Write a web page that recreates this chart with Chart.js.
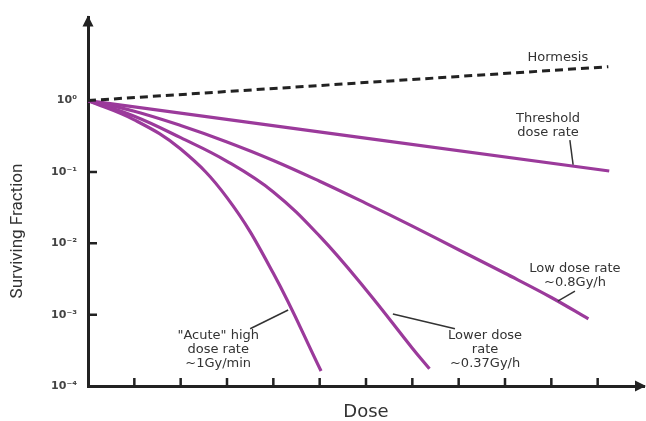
<!DOCTYPE html>
<html>
<head>
<meta charset="utf-8">
<script src="https://cdn.jsdelivr.net/npm/chart.js@4.4.1/dist/chart.umd.min.js"></script>
<style>
  html, body { margin: 0; padding: 0; background: #fff; }
</style>
</head>
<body>
<canvas id="chart" width="646" height="421"></canvas>
<script>
// dose (arbitrary units along x) vs surviving fraction
const acuteDose = [0, 1, 2, 3, 4, 5.03];
const acuteSF = [1, 0.537, 0.209, 0.0437, 0.0038, 0.000162];

const lowerDose = [0, 1, 2, 3, 4, 5, 6, 7, 7.37];
const lowerSF = [1, 0.603, 0.302, 0.141, 0.0525, 0.0126, 0.00224, 0.000339, 0.000174];

const lowDose = [0, 1, 2, 3, 4, 5, 6, 7, 8, 9, 10, 10.8];
const lowSF = [1, 0.708, 0.447, 0.263, 0.145, 0.0741, 0.0363, 0.0174, 0.00813, 0.0038, 0.00174, 0.00087];

const thresholdDose = [0, 11.25];
const thresholdSF = [1, 0.103];

const hormesisDose = [0, 11.23];
const hormesisSF = [1, 2.98];

const xTickValues = [1, 2, 3, 4, 5, 6, 7, 8, 9, 10, 11];
const yTickValues = [1e-4, 1e-3, 1e-2, 1e-1, 1];
const yTickLabels = ["10\u207B\u2074", "10\u207B\u00B3", "10\u207B\u00B2", "10\u207B\u00B9", "10\u2070"];

const xTitle = "Dose";
const yTitle = "Surviving Fraction";

// curve labels, placed in data units
const notes = [
  { lines: ["Hormesis"], x: 10.14, y: 4.06 },
  { lines: ["Threshold", "dose rate"], x: 9.93, y: 0.563, leader: [10.40, 0.279, 10.47, 0.126] },
  { lines: ["Low dose rate", "~0.8Gy/h"], x: 10.51, y: 0.00444, leader: [10.51, 0.00213, 10.14, 0.00155] },
  { lines: ["Lower dose", "rate", "~0.37Gy/h"], x: 8.57, y: 0.000508, leader: [7.92, 0.000635, 6.58, 0.00102] },
  { lines: ["\"Acute\" high", "dose rate", "~1Gy/min"], x: 2.81, y: 0.000508, leader: [3.50, 0.000635, 4.32, 0.00116] }
];

const purple = "#9b3a9b";
const ink = "#222";

function series(doses, sf) {
  return doses.map((d, i) => ({ x: d, y: sf[i] }));
}

const axisExtras = {
  id: "axisExtras",
  afterDraw(chart) {
    const { ctx, chartArea: area, scales: { x, y } } = chart;
    ctx.save();

    // inward tick marks
    ctx.strokeStyle = ink;
    ctx.lineWidth = 2.5;
    ctx.beginPath();
    xTickValues.forEach(v => {
      const px = x.getPixelForValue(v);
      ctx.moveTo(px, area.bottom);
      ctx.lineTo(px, area.bottom - 8);
    });
    yTickValues.slice(1, 4).forEach(v => {
      const py = y.getPixelForValue(v);
      ctx.moveTo(area.left, py);
      ctx.lineTo(area.left + 9, py);
    });
    ctx.stroke();

    // arrow heads
    ctx.fillStyle = ink;
    ctx.beginPath();
    ctx.moveTo(area.left, area.top - 2);
    ctx.lineTo(area.left - 5.5, area.top + 9);
    ctx.lineTo(area.left + 5.5, area.top + 9);
    ctx.closePath();
    ctx.fill();
    ctx.beginPath();
    ctx.moveTo(area.right + 2, area.bottom);
    ctx.lineTo(area.right - 9, area.bottom - 5.5);
    ctx.lineTo(area.right - 9, area.bottom + 5.5);
    ctx.closePath();
    ctx.fill();

    // y title
    ctx.save();
    ctx.translate(18, 231);
    ctx.rotate(-Math.PI / 2);
    ctx.font = "17px Roboto";
    ctx.fillStyle = "#333";
    ctx.textAlign = "center";
    ctx.textBaseline = "middle";
    ctx.fillText(yTitle, 0, 0);
    ctx.restore();

    // curve labels and leader lines
    ctx.font = "13px 'DejaVu Sans'";
    ctx.fillStyle = "#333";
    ctx.textAlign = "center";
    ctx.textBaseline = "middle";
    notes.forEach(n => {
      const cx = x.getPixelForValue(n.x);
      const cy = y.getPixelForValue(n.y);
      n.lines.forEach((t, i) => ctx.fillText(t, cx, cy + i * 14));
      if (n.leader) {
        const [x1, y1, x2, y2] = n.leader;
        ctx.strokeStyle = "#333";
        ctx.lineWidth = 1.5;
        ctx.beginPath();
        ctx.moveTo(x.getPixelForValue(x1), y.getPixelForValue(y1));
        ctx.lineTo(x.getPixelForValue(x2), y.getPixelForValue(y2));
        ctx.stroke();
      }
    });

    ctx.restore();
  }
};

const lineStyle = {
  borderColor: purple,
  borderWidth: 3.2,
  pointRadius: 0,
  fill: false,
  tension: 0.4
};

new Chart(document.getElementById("chart"), {
  type: "line",
  data: {
    datasets: [
      { label: "Hormesis", data: series(hormesisDose, hormesisSF), borderColor: ink, borderWidth: 3, borderDash: [8, 5], pointRadius: 0, fill: false },
      { label: "Threshold dose rate", data: series(thresholdDose, thresholdSF), ...lineStyle },
      { label: "Low dose rate", data: series(lowDose, lowSF), ...lineStyle },
      { label: "Lower dose rate", data: series(lowerDose, lowerSF), ...lineStyle },
      { label: "Acute high dose rate", data: series(acuteDose, acuteSF), ...lineStyle }
    ]
  },
  options: {
    responsive: false,
    animation: false,
    layout: { padding: { top: 13, right: 2, left: 0, bottom: 0 } },
    plugins: { legend: { display: false }, tooltip: { enabled: false } },
    scales: {
      x: {
        type: "linear",
        min: 0,
        max: 12,
        grid: { display: false, drawTicks: false },
        border: { display: true, color: ink, width: 3 },
        ticks: { display: false },
        title: {
          display: true,
          text: xTitle,
          color: "#333",
          font: { family: "'DejaVu Sans'", size: 18, lineHeight: 1 },
          padding: { top: 0, bottom: 0 }
        },
        afterFit(scale) { scale.height = 35; }
      },
      y: {
        type: "logarithmic",
        min: 1e-4,
        max: 14.55,
        grid: { display: false, drawTicks: false },
        border: { display: true, color: ink, width: 3 },
        afterBuildTicks(scale) {
          scale.ticks = yTickValues.map(v => ({ value: v }));
        },
        ticks: {
          padding: 11,
          color: "#444",
          font: { family: "'DejaVu Sans'", size: 11, weight: "bold" },
          callback: v => yTickLabels[yTickValues.indexOf(v)]
        },
        afterFit(scale) { scale.width = 88; }
      }
    }
  },
  plugins: [axisExtras]
});
</script>
</body>
</html>
